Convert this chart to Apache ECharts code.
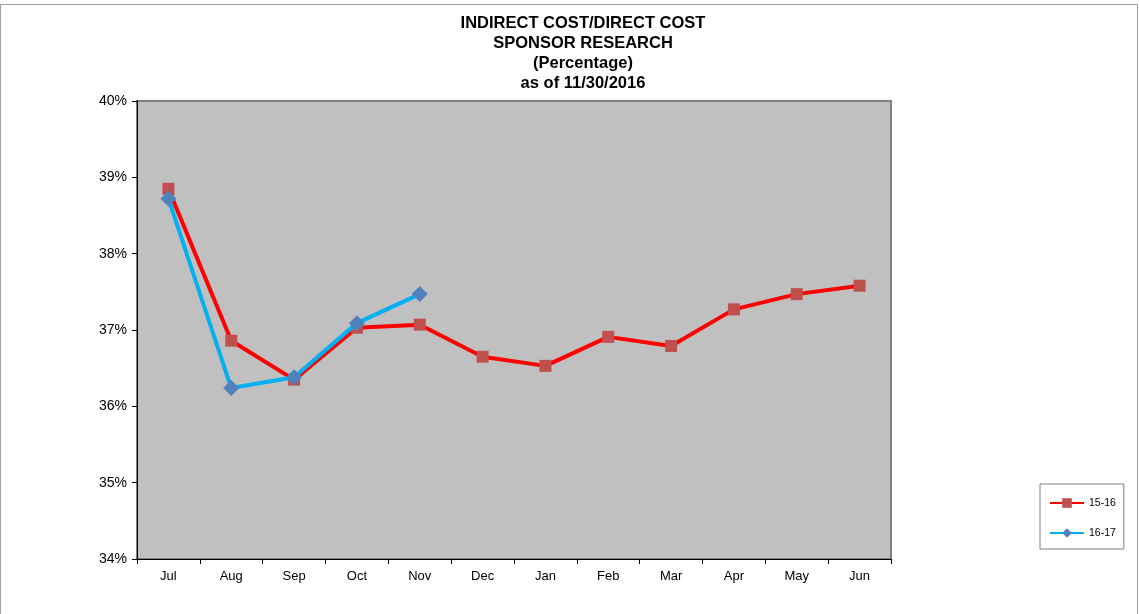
<!DOCTYPE html>
<html>
<head>
<meta charset="utf-8">
<script src="https://cdn.jsdelivr.net/npm/echarts@6/dist/echarts.min.js"></script>
<style>
  html, body { margin: 0; padding: 0; background: #fff; overflow: hidden; }
  #chart { position: absolute; left: 0; top: 0; width: 1139px; height: 614px; }
  #frame { position: absolute; left: 0; top: 4px; width: 1136px; height: 640px; border: 1px solid #a0a0a0; }
</style>
</head>
<body>
<div id="frame"></div>
<div id="chart"></div>
<script>
const months = ["Jul", "Aug", "Sep", "Oct", "Nov", "Dec", "Jan", "Feb", "Mar", "Apr", "May", "Jun"];
// percentages
const fy1516 = [38.85, 36.86, 36.35, 37.03, 37.07, 36.65, 36.53, 36.91, 36.79, 37.27, 37.47, 37.58];
const fy1617 = [38.72, 36.24, 36.38, 37.09, 37.47];
const titleLines = ["INDIRECT COST/DIRECT COST", "SPONSOR RESEARCH", "(Percentage)", "as of 11/30/2016"];

const myChart = echarts.init(document.getElementById('chart'));

const option = {
  animation: false,
  title: {
    text: titleLines.join('\n'),
    left: 578,
    top: 8,
    textAlign: 'center',
    textStyle: {
      fontFamily: 'Liberation Sans, Arial, sans-serif',
      fontSize: 16.5,
      fontWeight: 'bold',
      color: '#000',
      lineHeight: 20
    }
  },
  grid: {
    left: 137,
    right: 248,
    top: 101,
    bottom: 55,
    show: true,
    backgroundColor: '#c0c0c0',
    borderColor: '#808080',
    borderWidth: 2
  },
  legend: {
    orient: 'vertical',
    left: 1040,
    top: 484,
    padding: [13, 8, 10, 9],
    itemGap: 18,
    itemWidth: 34,
    itemHeight: 12,
    borderColor: '#808080',
    borderWidth: 1,
    textStyle: { fontFamily: 'Liberation Sans, Arial, sans-serif', fontSize: 10.5, color: '#000', lineHeight: 12 },
    data: ['15-16', '16-17']
  },
  xAxis: {
    type: 'category',
    data: months,
    boundaryGap: true,
    axisLine: { lineStyle: { color: '#000', width: 1 } },
    axisTick: { show: true, length: 5, lineStyle: { color: '#000' } },
    axisLabel: { fontFamily: 'Liberation Sans, Arial, sans-serif', fontSize: 13, color: '#000', margin: 11 },
    splitLine: { show: false }
  },
  yAxis: {
    type: 'value',
    min: 34,
    max: 40,
    interval: 1,
    axisLine: { show: true, lineStyle: { color: '#000', width: 1 } },
    axisTick: { show: true, length: 5, lineStyle: { color: '#000' } },
    axisLabel: { formatter: '{value}%', fontFamily: 'Liberation Sans, Arial, sans-serif', fontSize: 14, color: '#000', margin: 10 },
    splitLine: { show: false }
  },
  series: [
    {
      name: '15-16',
      type: 'line',
      data: fy1516,
      symbol: 'rect',
      symbolSize: 12,
      lineStyle: { color: '#ff0000', width: 4 },
      itemStyle: { color: '#c0504d' },
      z: 2
    },
    {
      name: '16-17',
      type: 'line',
      data: fy1617,
      symbol: 'diamond',
      symbolSize: 16,
      lineStyle: { color: '#00b0f0', width: 4 },
      itemStyle: { color: '#4f81bd' },
      z: 3
    }
  ]
};

myChart.setOption(option);
</script>
</body>
</html>
